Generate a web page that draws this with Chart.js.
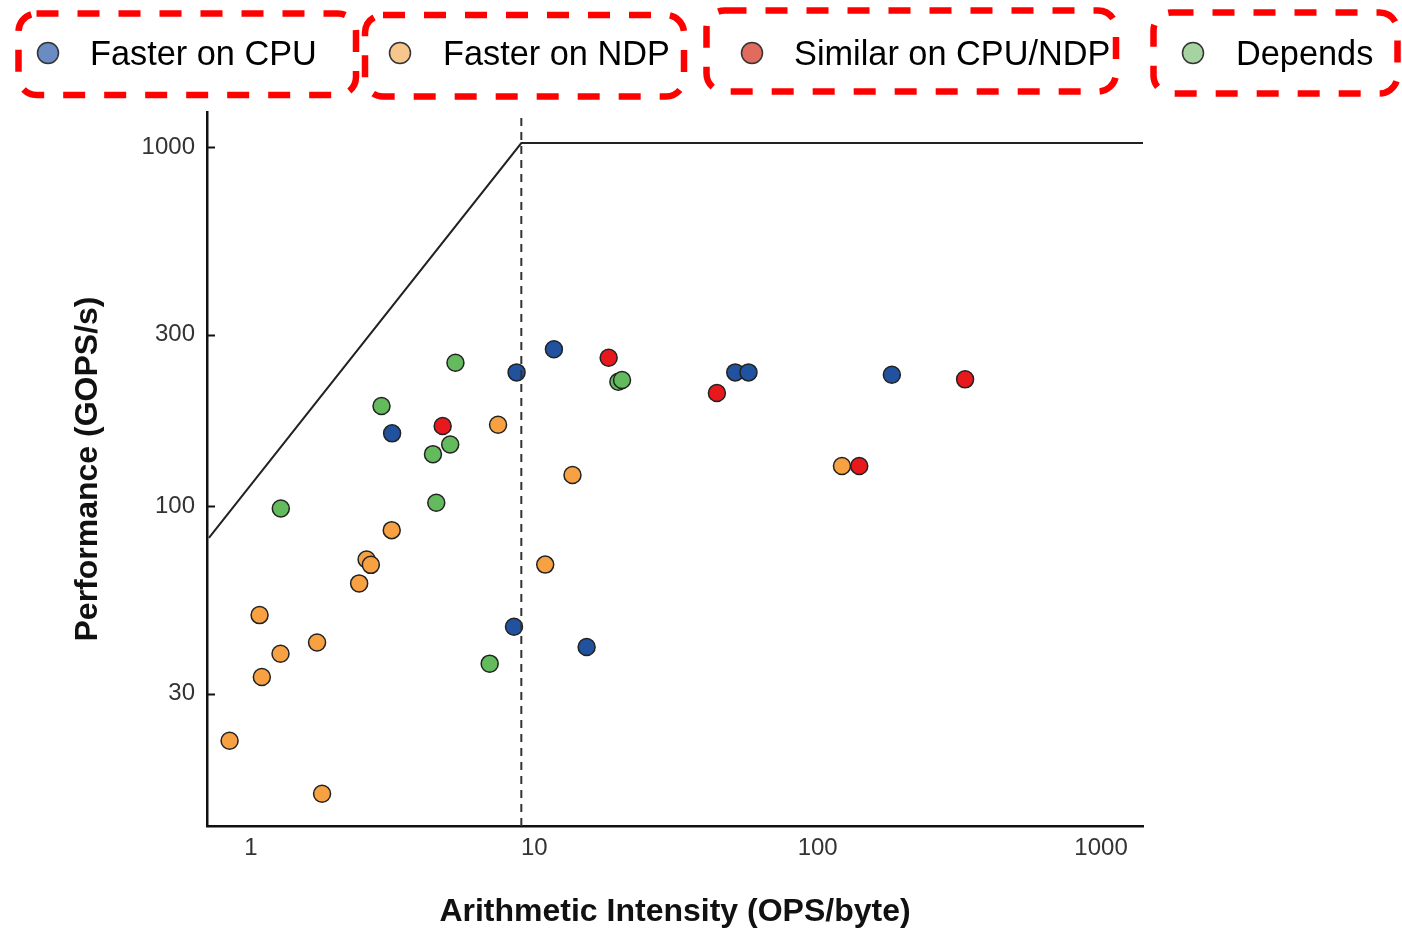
<!DOCTYPE html>
<html>
<head>
<meta charset="utf-8">
<script src="https://cdn.jsdelivr.net/npm/chart.js@4.4.1/dist/chart.umd.min.js"></script>
<style>
  html, body { margin: 0; padding: 0; background: #fff; }
  #wrap { position: relative; width: 1402px; height: 928px; }
  #roofline-chart, #legend { position: absolute; left: 0; top: 0; }
  #legend text { font-family: "Liberation Sans", Arial, sans-serif; font-size: 34.3px; fill: #000; }
</style>
</head>
<body>
<div id="wrap">
  <canvas id="roofline-chart" width="1402" height="928"></canvas>
  <svg id="legend" width="1402" height="110"></svg>
</div>
<script>
// axis ranges and tick labels
const xMin = 0.711, xMax = 1406;
const yMin = 12.85, yMax = 1252;
const xTicks = [1, 10, 100, 1000];
const yTicks = [30, 100, 300, 1000];

// roofline (bandwidth slope, then compute roof) and ridge point
const roofAI = [xMin, 9.0, xMax];
const roofPerf = [81.5, 1026, 1026];
const ridgeAI = 9.0;

const seriesNames = ["Faster on CPU", "Faster on NDP", "Similar on CPU/NDP", "Depends"];

// Faster on CPU
const cpuAI   = [8.66, 11.73, 3.15, 51.2, 57.0, 182.7, 8.48, 15.3];
const cpuPerf = [235.7, 273.3, 159.4, 235.7, 235.7, 232.1, 46.1, 40.5];

// Faster on NDP
const ndpAI   = [7.45, 13.64, 3.14, 2.56, 2.65, 2.41, 10.93, 1.073, 1.712, 1.272, 1.093, 0.841, 1.783, 121.8];
const ndpPerf = [168.5, 122.0, 85.7, 71.0, 68.6, 60.9, 68.7, 49.7, 41.7, 38.8, 33.4, 22.2, 15.8, 129.3];

// Similar on CPU/NDP
const simAI   = [4.75, 18.3, 44.1, 140.2, 331.3];
const simPerf = [167.1, 258.9, 206.5, 129.3, 225.4];

// Depends
const depAI   = [5.27, 2.89, 5.05, 4.39, 4.51, 1.275, 6.96, 19.8, 20.4];
const depPerf = [250.7, 189.9, 148.5, 139.5, 102.1, 98.5, 36.4, 221.9, 224.4];

const markerColors = ["#2152a0", "#f8a142", "#e8191d", "#63bb5e"];
const legendColors = ["#6a8cc2", "#f6c68c", "#e06b5e", "#a6d4a0"];

const FONT = '"Liberation Sans", Arial, sans-serif';

function pts(xs, ys) {
  return xs.map((x, i) => ({ x: x, y: ys[i] }));
}

function scatterSet(idx, xs, ys) {
  return {
    label: seriesNames[idx],
    data: pts(xs, ys),
    backgroundColor: markerColors[idx],
    borderColor: "#222",
    borderWidth: 1.5,
    pointRadius: 8.5,
    pointHoverRadius: 8.5,
    order: [2, 4, 3, 1][idx],
  };
}

// small tick marks on the y axis pointing into the plot
const innerTicks = {
  id: "innerTicks",
  afterDraw(chart) {
    const y = chart.scales.y;
    const ctx = chart.ctx;
    ctx.save();
    ctx.strokeStyle = "#111";
    ctx.lineWidth = 2;
    yTicks.forEach((v) => {
      const py = Math.round(y.getPixelForValue(v)) + 0.5;
      ctx.beginPath();
      ctx.moveTo(y.right, py);
      ctx.lineTo(y.right + 8, py);
      ctx.stroke();
    });
    ctx.restore();
  },
};

new Chart(document.getElementById("roofline-chart").getContext("2d"), {
  type: "scatter",
  data: {
    datasets: [
      {
        type: "line",
        label: "ridge",
        data: [{ x: ridgeAI, y: yMin }, { x: ridgeAI, y: yMax }],
        borderColor: "#333",
        borderWidth: 2,
        borderDash: [8, 6],
        pointRadius: 0,
        showLine: true,
        fill: false,
        order: 0,
      },
      scatterSet(0, cpuAI, cpuPerf),
      scatterSet(1, ndpAI, ndpPerf),
      scatterSet(2, simAI, simPerf),
      scatterSet(3, depAI, depPerf),
      {
        type: "line",
        label: "roof",
        data: pts(roofAI, roofPerf),
        borderColor: "#222",
        borderWidth: 2,
        pointRadius: 0,
        showLine: true,
        fill: false,
        tension: 0,
        order: 9,
      },
    ],
  },
  plugins: [innerTicks],
  options: {
    responsive: false,
    animation: false,
    layout: { padding: { left: 0, top: 112, right: 259, bottom: 0 } },
    plugins: {
      legend: { display: false },
      tooltip: { enabled: false },
    },
    scales: {
      x: {
        type: "logarithmic",
        position: "bottom",
        min: xMin,
        max: xMax,
        grid: { display: false, drawTicks: false },
        border: { display: true, color: "#111", width: 2.5 },
        ticks: {
          color: "#333",
          padding: 8,
          autoSkip: false,
          maxRotation: 0,
          font: { family: FONT, size: 24 },
          callback: (v) => String(v),
        },
        afterBuildTicks: (s) => { s.ticks = xTicks.map((v) => ({ value: v })); },
        afterFit: (s) => { s.height = 102; },
        title: {
          display: true,
          text: "Arithmetic Intensity (OPS/byte)",
          color: "#111",
          padding: { top: 0, bottom: 0 },
          font: { family: FONT, size: 32, weight: "bold", lineHeight: 1 },
        },
      },
      y: {
        type: "logarithmic",
        position: "left",
        min: yMin,
        max: yMax,
        grid: { display: false, drawTicks: false },
        border: { display: true, color: "#111", width: 2.5 },
        ticks: {
          color: "#333",
          padding: 12,
          autoSkip: false,
          font: { family: FONT, size: 24 },
          callback: (v) => String(v),
        },
        afterBuildTicks: (s) => { s.ticks = yTicks.map((v) => ({ value: v })); },
        afterFit: (s) => { s.width = 207; },
        title: {
          display: true,
          text: "Performance (GOPS/s)",
          color: "#111",
          padding: { top: 72, bottom: 0 },
          font: { family: FONT, size: 32, weight: "bold", lineHeight: 1 },
        },
      },
    },
  },
});

// legend boxes with red dashed rounded borders
const legendBoxes = [
  { x: 18.5, y: 13.5, w: 337.5, h: 81.5, cx: 48, tx: 90 },
  { x: 365, y: 15, w: 319, h: 81.5, cx: 400, tx: 443 },
  { x: 706.5, y: 10.5, w: 409.5, h: 81, cx: 752, tx: 794 },
  { x: 1153.5, y: 12.5, w: 244, h: 81, cx: 1193, tx: 1236 },
];

const svgNS = "http://www.w3.org/2000/svg";
const svg = document.getElementById("legend");
legendBoxes.forEach((b, i) => {
  const rect = document.createElementNS(svgNS, "rect");
  rect.setAttribute("x", b.x);
  rect.setAttribute("y", b.y);
  rect.setAttribute("width", b.w);
  rect.setAttribute("height", b.h);
  rect.setAttribute("rx", 18);
  rect.setAttribute("fill", "none");
  rect.setAttribute("stroke", "#ff0000");
  rect.setAttribute("stroke-width", 6.5);
  rect.setAttribute("stroke-dasharray", "22 19");
  svg.appendChild(rect);

  const dot = document.createElementNS(svgNS, "circle");
  dot.setAttribute("cx", b.cx);
  dot.setAttribute("cy", 53);
  dot.setAttribute("r", 10.5);
  dot.setAttribute("fill", legendColors[i]);
  dot.setAttribute("stroke", "#333");
  dot.setAttribute("stroke-width", 1.5);
  svg.appendChild(dot);

  const label = document.createElementNS(svgNS, "text");
  label.setAttribute("x", b.tx);
  label.setAttribute("y", 65);
  label.textContent = seriesNames[i];
  svg.appendChild(label);
});
</script>
</body>
</html>
